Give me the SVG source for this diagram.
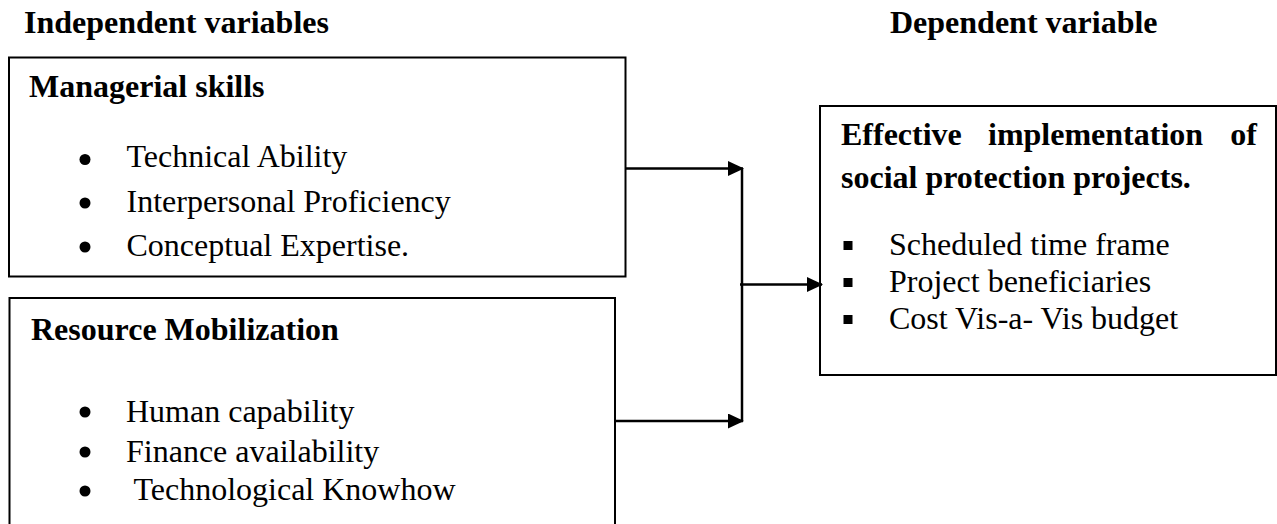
<svg xmlns="http://www.w3.org/2000/svg" width="1277" height="524" viewBox="0 0 1277 524">
<style>
text{font-family:"Liberation Serif","Times New Roman",serif;font-size:32px;fill:#000}
.b{font-weight:bold}
.box{fill:none;stroke:#000;stroke-width:2}
.con{fill:none;stroke:#000;stroke-width:2.5}
.dot{fill:#000}
</style>
<defs>
<marker id="ah" markerUnits="userSpaceOnUse" markerWidth="17" markerHeight="16" refX="15" refY="7.5" orient="auto">
<path d="M0,0 L16,7.5 L0,15 Z" fill="#000"/>
</marker>
</defs>
<rect width="1277" height="524" fill="#fff"/>
<text class="b" x="24" y="33">Independent variables</text>
<text class="b" x="890" y="33">Dependent variable</text>
<g id="managerial-skills">
<rect class="box" x="9" y="57.5" width="616.5" height="219"/>
<text class="b" x="29" y="97">Managerial skills</text>
<circle class="dot" cx="85" cy="159.5" r="5.5"/>
<text x="126.5" y="167">Technical Ability</text>
<circle class="dot" cx="85" cy="203" r="5.5"/>
<text x="126.5" y="211.5">Interpersonal Proficiency</text>
<circle class="dot" cx="85" cy="247" r="5.5"/>
<text x="126.5" y="256">Conceptual Expertise.</text>
</g>
<g id="resource-mobilization">
<path class="box" d="M9.5,530 V298 H615 V530"/>
<text class="b" x="31" y="340">Resource Mobilization</text>
<circle class="dot" cx="85" cy="412" r="5.5"/>
<text x="126" y="421.5">Human capability</text>
<circle class="dot" cx="85" cy="452" r="5.5"/>
<text x="126" y="461.5">Finance availability</text>
<circle class="dot" cx="85" cy="491" r="5.5"/>
<text x="126" y="500" xml:space="preserve"> Technological Knowhow</text>
</g>
<g id="effective-implementation">
<rect class="box" x="820" y="106" width="456" height="269"/>
<text class="b" x="841" y="145">Effective</text>
<text class="b" x="988" y="145">implementation</text>
<text class="b" x="1257" y="145" text-anchor="end">of</text>
<text class="b" x="841" y="188">social protection projects.</text>
<rect class="dot" x="843.5" y="241" width="9" height="9"/>
<text x="889" y="255">Scheduled time frame</text>
<rect class="dot" x="843.5" y="278" width="9" height="9"/>
<text x="889" y="292">Project beneficiaries</text>
<rect class="dot" x="843.5" y="315" width="9" height="9"/>
<text x="889" y="329">Cost Vis-a- Vis budget</text>
</g>
<g id="connectors">
<line class="con" x1="625.5" y1="168.5" x2="743" y2="168.5" marker-end="url(#ah)"/>
<line class="con" x1="615" y1="421" x2="743" y2="421" marker-end="url(#ah)"/>
<line class="con" x1="742" y1="168.5" x2="742" y2="421"/>
<line class="con" x1="740" y1="284.5" x2="822" y2="284.5" marker-end="url(#ah)"/>
</g>
</svg>
